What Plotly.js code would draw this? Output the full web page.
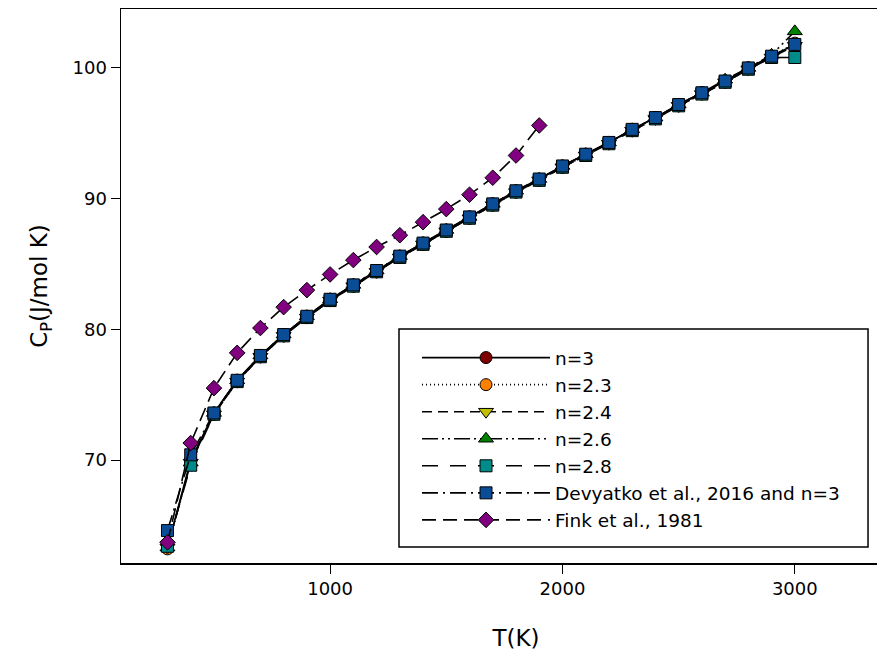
<!DOCTYPE html>
<html>
<head>
<meta charset="utf-8">
<script src="https://cdn.plot.ly/plotly-3.0.1.min.js"></script>
<style>
html, body { margin: 0; padding: 0; background: #fff; overflow: hidden; width: 877px; height: 660px; }
#chart { width: 921px; height: 660px; }
</style>
</head>
<body>
<div id="chart"></div>
<script>
// ---- data ----
const T = [300, 400, 500, 600, 700, 800, 900, 1000, 1100, 1200, 1300, 1400, 1500, 1600, 1700, 1800, 1900, 2000, 2100, 2200, 2300, 2400, 2500, 2600, 2700, 2800, 2900, 3000];
const cp_n3   = [63.3, 70.0, 73.6, 76.1, 78.0, 79.6, 81.0, 82.3, 83.4, 84.5, 85.6, 86.6, 87.6, 88.6, 89.6, 90.6, 91.5, 92.5, 93.4, 94.3, 95.3, 96.2, 97.2, 98.1, 99.0, 100.0, 100.9, 101.8];
const cp_n23  = [63.2, 69.9, 73.5, 76.0, 77.9, 79.5, 80.9, 82.2, 83.3, 84.4, 85.5, 86.5, 87.5, 88.5, 89.5, 90.5, 91.4, 92.4, 93.3, 94.3, 95.2, 96.2, 97.1, 98.1, 99.0, 100.0, 100.9, 101.9];
const cp_n24  = [63.3, 69.8, 73.5, 76.0, 77.9, 79.5, 80.9, 82.2, 83.3, 84.4, 85.5, 86.5, 87.5, 88.5, 89.5, 90.5, 91.4, 92.4, 93.3, 94.2, 95.2, 96.1, 97.1, 98.0, 98.9, 99.9, 100.8, 101.7];
const cp_n26  = [63.3, 69.8, 73.6, 76.1, 78.0, 79.6, 81.0, 82.3, 83.4, 84.5, 85.6, 86.6, 87.6, 88.6, 89.6, 90.6, 91.5, 92.5, 93.4, 94.3, 95.3, 96.2, 97.2, 98.1, 99.1, 100.0, 101.0, 102.8];
const cp_n28  = [63.4, 69.6, 73.5, 76.0, 77.9, 79.5, 80.9, 82.2, 83.3, 84.4, 85.5, 86.5, 87.5, 88.5, 89.5, 90.5, 91.4, 92.4, 93.3, 94.2, 95.2, 96.1, 97.1, 98.0, 98.9, 99.9, 100.8, 100.8];
const cp_dev  = [64.6, 70.4, 73.6, 76.1, 78.0, 79.6, 81.0, 82.3, 83.4, 84.5, 85.6, 86.6, 87.6, 88.6, 89.6, 90.6, 91.5, 92.5, 93.4, 94.3, 95.3, 96.2, 97.2, 98.1, 99.0, 100.0, 100.9, 101.8];
const T_fink  = [300, 400, 500, 600, 700, 800, 900, 1000, 1100, 1200, 1300, 1400, 1500, 1600, 1700, 1800, 1900];
const cp_fink = [63.7, 71.3, 75.5, 78.2, 80.1, 81.7, 83.0, 84.2, 85.3, 86.3, 87.2, 88.2, 89.2, 90.3, 91.6, 93.3, 95.6];
const names   = ["n=3", "n=2.3", "n=2.4", "n=2.6", "n=2.8", "Devyatko et al., 2016 and n=3", "Fink et al., 1981"];
const xTicks  = [1000, 2000, 3000];
const yTicks  = [70, 80, 90, 100];

// ---- styles ----
const FONT = "DejaVu Sans, Arial, sans-serif";
function tr(x, y, name, symbol, color, size, dash) {
  return {
    x: x, y: y, name: name, type: "scatter", mode: "lines+markers",
    line: { color: "#000", width: 1.6, dash: dash },
    marker: { symbol: symbol, color: color, size: size, line: { color: "#000", width: 1 } }
  };
}
const data = [
  tr(T, cp_n3,  names[0], "circle",        "#7f0000", 12, "solid"),
  tr(T, cp_n23, names[1], "circle",        "#ff8000", 12, "1px,3px"),
  tr(T, cp_n24, names[2], "triangle-down", "#c0c000", 13, "10px,6px"),
  tr(T, cp_n26, names[3], "triangle-up",   "#008000", 13, "16px,4px,2px,4px,2px,4px"),
  tr(T, cp_n28, names[4], "square",        "#008b8b", 12, "16px,12px"),
  tr(T, cp_dev, names[5], "square",        "#0a4d96", 12, "16px,5px,2px,5px"),
  tr(T_fink, cp_fink, names[6], "diamond", "#800080", 12, "14px,7px")
];

const layout = {
  width: 921, height: 660,
  margin: { l: 121, r: 10, t: 9, b: 97 },
  paper_bgcolor: "#fff", plot_bgcolor: "#fff",
  font: { family: FONT, size: 18, color: "#000" },
  showlegend: true,
  xaxis: {
    range: [100, 3500], tickvals: xTicks, ticktext: xTicks.map(String),
    showgrid: false, zeroline: false, showline: true, mirror: true,
    linecolor: "#000", linewidth: 1.5,
    ticks: "outside", ticklen: 9, tickwidth: 1, tickcolor: "#000",
    tickfont: { family: FONT, size: 18, color: "#000" },
    title: { text: "T(K)", font: { family: FONT, size: 23, color: "#000" }, standoff: 32 }
  },
  yaxis: {
    range: [62.12, 104.51], tickvals: yTicks, ticktext: yTicks.map(String),
    showgrid: false, zeroline: false, showline: true, mirror: true,
    linecolor: "#000", linewidth: 1.5,
    ticks: "outside", ticklen: 9, tickwidth: 1, tickcolor: "#000",
    tickfont: { family: FONT, size: 18, color: "#000" },
    title: { text: "C<sub>P</sub>(J/mol K)", font: { family: FONT, size: 23, color: "#000" }, standoff: 18 }
  },
  legend: {
    x: 0.3747, y: 0.4042, xanchor: "left", yanchor: "top",
    bgcolor: "rgba(0,0,0,0)", borderwidth: 0,
    font: { family: FONT, size: 18.5, color: "#000" },
    itemwidth: 128, traceorder: "normal", itemsizing: "trace"
  },
  shapes: [{
    type: "rect", xref: "paper", yref: "paper",
    x0: 0.3519, x1: 0.9456, y0: 0.0289, y1: 0.4224,
    line: { color: "#000", width: 1.5 }, fillcolor: "rgba(0,0,0,0)", layer: "above"
  }]
};

Plotly.newPlot("chart", data, layout, { displayModeBar: false, staticPlot: true });
</script>
</body>
</html>
